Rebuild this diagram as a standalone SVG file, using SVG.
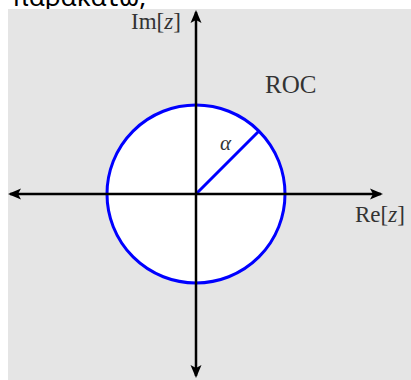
<svg xmlns="http://www.w3.org/2000/svg" width="411" height="380" viewBox="0 0 411 380">
<style>
.lbl{font-family:"Liberation Serif","DejaVu Serif",serif;fill:#333;}
.axis{stroke:#000;stroke-width:2.5;fill:none;}
</style>
<defs>
<marker id="ah" viewBox="0 0 13 13" refX="11" refY="6.5" markerWidth="13" markerHeight="13" markerUnits="userSpaceOnUse" orient="auto">
<path d="M0,1 L13,6.5 L0,12 L3,6.5 Z" fill="#000"/>
</marker>
</defs>
<rect width="411" height="380" fill="#fff"/>
<text x="12" y="6" font-family="'Noto Sans','DejaVu Sans',sans-serif" font-size="26" fill="#000">παρακάτω;</text>
<rect x="8" y="9" width="403" height="371" fill="#e5e5e5"/>
<g id="roc">
<circle cx="196" cy="194" r="89" fill="#fff" stroke="#0000ff" stroke-width="3"/>
<line x1="196" y1="194" x2="259" y2="131" stroke="#0000ff" stroke-width="3"/>
</g>
<g id="connectors">
<line class="axis" x1="196" y1="194" x2="196" y2="12" marker-end="url(#ah)"/>
<line class="axis" x1="196" y1="194" x2="196" y2="376" marker-end="url(#ah)"/>
<line class="axis" x1="196" y1="194" x2="10" y2="194" marker-end="url(#ah)"/>
<line class="axis" x1="196" y1="194" x2="381" y2="194" marker-end="url(#ah)"/>
</g>
<g id="labels">
<text class="lbl" x="131" y="29" font-size="23">Im[<tspan font-style="italic">z</tspan>]</text>
<text class="lbl" x="355" y="222" font-size="23">Re[<tspan font-style="italic">z</tspan>]</text>
<text class="lbl" x="265" y="93" font-size="25">ROC</text>
<text class="lbl" x="220" y="150" font-size="21" font-style="italic">α</text>
</g>
</svg>
